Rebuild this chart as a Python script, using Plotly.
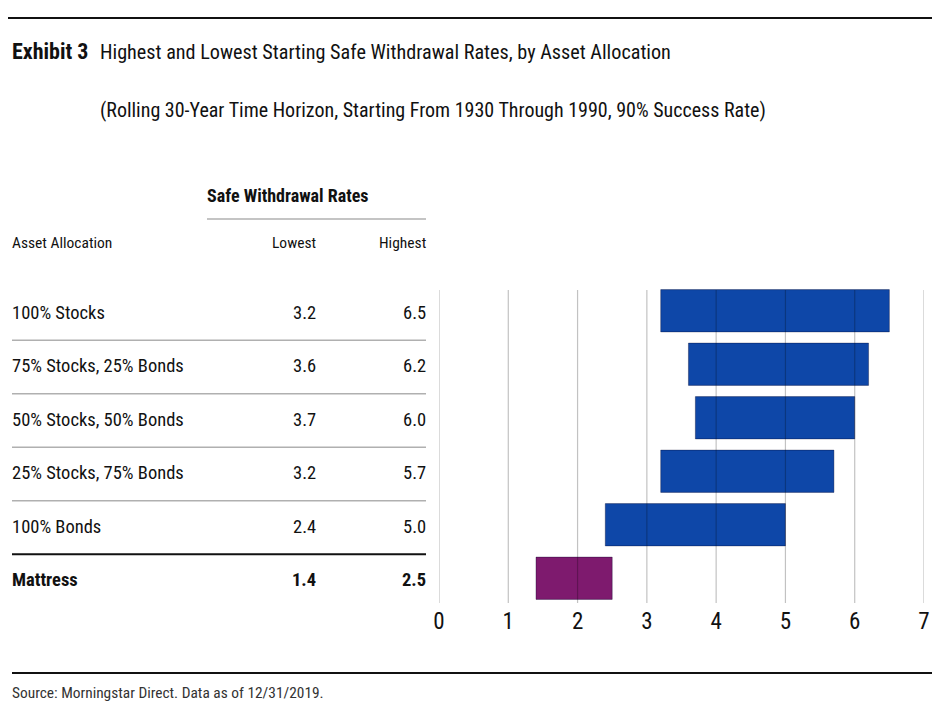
import plotly.graph_objects as go

allocations = ['100% Stocks', '75% Stocks, 25% Bonds', '50% Stocks, 50% Bonds',
               '25% Stocks, 75% Bonds', '100% Bonds', 'Mattress']
lowest = [3.2, 3.6, 3.7, 3.2, 2.4, 1.4]
highest = [6.5, 6.2, 6.0, 5.7, 5.0, 2.5]
x_ticks = [0, 1, 2, 3, 4, 5, 6, 7]

FONT = 'Roboto Condensed, Liberation Sans Narrow, sans-serif'
BLUE = '#0E47A8'
PURPLE = '#7E1A6E'
OFF = 8  # page body margin
W, H = 945 - OFF, 725 - OFF
L, R, T, B = 439 - OFF, 21, 284 - OFF, 120
PW, PH = W - L - R, H - T - B


def px_x(p):
    # page pixel -> paper coordinate
    return (p - OFF - L) / PW


def px_y(p):
    return 1 - (p - OFF - T) / PH


colors = [PURPLE if a == 'Mattress' else BLUE for a in allocations]
spans = [h - l for l, h in zip(lowest, highest)]

fig = go.Figure()
fig.add_trace(go.Bar(
    y=allocations, x=spans, base=lowest, orientation='h',
    marker=dict(color=colors, line=dict(color='rgba(0,0,40,0.35)', width=1)),
    width=0.79, hoverinfo='skip',
))

# gridlines drawn above the bars, as in the reference
for t in x_ticks:
    fig.add_shape(type='line', xref='x', yref='paper', x0=t, x1=t,
                  y0=px_y(603), y1=px_y(290), layer='above',
                  line=dict(color='rgba(0,0,0,0.24)', width=1.2))


def note(x, y, text, size, xanchor='left', yref='paper', color='#111', yshift=0):
    return dict(x=x, y=y, xref='paper', yref=yref, text=text, showarrow=False,
                xanchor=xanchor, yanchor='middle', yshift=yshift,
                font=dict(family=FONT, size=size, color=color))


ann = []
# table text
for a, lo, hi in zip(allocations, lowest, highest):
    bold = a == 'Mattress'
    txt = lambda s: f'<b>{s}</b>' if bold else s
    ann.append(note(px_x(10), a, txt(a), 18.5, yref='y', yshift=-2))
    ann.append(note(px_x(318), a, txt(f'{lo:.1f}'), 18.5, 'right', yref='y', yshift=-2))
    ann.append(note(px_x(428), a, txt(f'{hi:.1f}'), 18.5, 'right', yref='y', yshift=-2))

# row separators
for i in range(len(allocations) - 1):
    last = i == len(allocations) - 2
    fig.add_shape(type='line', xref='paper', yref='y', x0=px_x(12), x1=px_x(426),
                  y0=i + 0.55, y1=i + 0.55,
                  line=dict(color='#111' if last else '#b0b0b0', width=2 if last else 1.5))

ann += [
    note(px_x(287), px_y(195), '<b>Safe Withdrawal Rates</b>', 18, 'center'),
    note(px_x(10), px_y(243), 'Asset Allocation', 15.5),
    note(px_x(318), px_y(243), 'Lowest', 15.5, 'right'),
    note(px_x(428), px_y(243), 'Highest', 15.5, 'right'),
    note(px_x(10), px_y(52), '<b>Exhibit 3</b>', 22),
    note(px_x(98), px_y(52),
         'Highest and Lowest Starting Safe Withdrawal Rates, by Asset Allocation', 20.2),
    note(px_x(98), px_y(110),
         '(Rolling 30-Year Time Horizon, Starting From 1930 Through 1990, 90% Success Rate)', 20),
    note(px_x(10), px_y(693), 'Source: Morningstar Direct. Data as of 12/31/2019.', 15.4,
         color='#333'),
]

# rules
fig.add_shape(type='line', xref='paper', yref='paper', x0=px_x(8), x1=px_x(932),
              y0=px_y(18), y1=px_y(18), line=dict(color='#111', width=2))
fig.add_shape(type='line', xref='paper', yref='paper', x0=px_x(12), x1=px_x(932),
              y0=px_y(673), y1=px_y(673), line=dict(color='#111', width=2))
fig.add_shape(type='line', xref='paper', yref='paper', x0=px_x(207), x1=px_x(426),
              y0=px_y(219), y1=px_y(219), line=dict(color='#b0b0b0', width=1.5))

fig.update_layout(
    width=W, height=H, margin=dict(l=L, r=R, t=T, b=B),
    paper_bgcolor='white', plot_bgcolor='white', showlegend=False,
    annotations=ann, bargap=0.2,
    xaxis=dict(range=[0, 7], tickvals=x_ticks, showgrid=False, zeroline=False,
               showline=False, ticks='', tickfont=dict(family=FONT, size=23, color='#111')),
    yaxis=dict(categoryorder='array', categoryarray=allocations, range=[5.5, -0.5],
               showticklabels=False, showgrid=False, zeroline=False),
)

fig.write_html('out.html')
